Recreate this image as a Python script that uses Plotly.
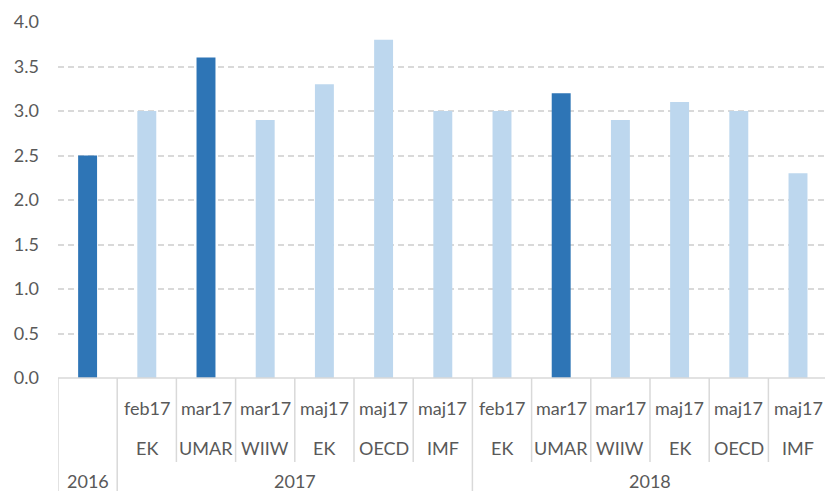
import plotly.graph_objects as go

years = ["2016", "2017", "2018"]
year_sizes = [1, 6, 6]
dates = ["", "feb17", "mar17", "mar17", "maj17", "maj17", "maj17",
         "feb17", "mar17", "mar17", "maj17", "maj17", "maj17"]
sources = ["", "EK", "UMAR", "WIIW", "EK", "OECD", "IMF",
           "EK", "UMAR", "WIIW", "EK", "OECD", "IMF"]
values = [2.5, 3.0, 3.6, 2.9, 3.3, 3.8, 3.0,
          3.0, 3.2, 2.9, 3.1, 3.0, 2.3]
highlight = [True, False, True, False, False, False, False,
             False, True, False, False, False, False]
y_ticks = [0.0, 0.5, 1.0, 1.5, 2.0, 2.5, 3.0, 3.5, 4.0]

DARK = "#2E75B6"
LIGHT = "#BDD7EE"
LINE = "#D9D9D9"
TXT = "#595959"
FONT = "Lato"

n = len(values)
xs = list(range(n))
colors = [DARK if h else LIGHT for h in highlight]

fig = go.Figure(go.Bar(x=xs, y=values, marker_color=colors, width=0.32,
                       marker_line_width=0, hoverinfo="skip"))

# page body has an 8px margin on every side; keep the figure inside the window
OFF = 8
PW, PH = 833, 499
W, H = PW - 2 * OFF, PH - 2 * OFF
base_pix = 378  # page pixel of the zero line
top_pix = 22    # page pixel of the 4.0 gridline
ml, mt = 58 - OFF, top_pix - OFF
mb = H - (base_pix - OFF)
cat_px = 59.2
plot_w = W - ml
x_end = -0.5 + plot_w / cat_px

def py(pix):
    return (base_pix - pix) / (base_pix - top_pix)

shapes = []
shapes.append(dict(type="line", xref="x", yref="paper", x0=-0.5, x1=x_end,
                   y0=0, y1=0, line=dict(color=LINE, width=1.5)))
year_bounds = [-0.5]
acc = -0.5
for s in year_sizes:
    acc += s
    year_bounds.append(acc)
for k in range(n + 1):
    xb = k - 0.5
    if any(abs(xb - b) < 1e-9 for b in year_bounds):
        yb = py(PH + 5)
    else:
        yb = py(462)
    shapes.append(dict(type="line", xref="x", yref="paper", x0=xb, x1=xb,
                       y0=0, y1=yb, line=dict(color=LINE, width=1.5)))

CAT_SIZE = 18
annotations = []
for i in range(n):
    if dates[i]:
        annotations.append(dict(x=i, y=py(408), xref="x", yref="paper",
                                text=dates[i], showarrow=False, yanchor="middle",
                                font=dict(family=FONT, size=CAT_SIZE, color=TXT)))
    if sources[i]:
        annotations.append(dict(x=i, y=py(448), xref="x", yref="paper",
                                text=sources[i], showarrow=False, yanchor="middle",
                                font=dict(family=FONT, size=CAT_SIZE, color=TXT)))
start = 0
for yname, s in zip(years, year_sizes):
    cx = start + (s - 1) / 2
    annotations.append(dict(x=cx, y=py(481), xref="x", yref="paper",
                            text=yname, showarrow=False, yanchor="middle",
                            font=dict(family=FONT, size=CAT_SIZE, color=TXT)))
    start += s

fig.update_layout(
    width=W, height=H,
    margin=dict(l=ml, r=0, t=mt, b=mb),
    plot_bgcolor="white", paper_bgcolor="white",
    showlegend=False,
    shapes=shapes, annotations=annotations,
    xaxis=dict(range=[-0.5, x_end], showticklabels=False, showgrid=False,
               zeroline=False, showline=False, fixedrange=True),
    yaxis=dict(range=[0, 4.0], tickvals=y_ticks,
               ticktext=[f"{v:.1f}" for v in y_ticks],
               showgrid=True, gridcolor=LINE, griddash="6px,4px", gridwidth=1.5,
               zeroline=False, showline=False, ticklabelstandoff=18,
               tickfont=dict(family=FONT, size=18, color=TXT)),
)

fig.write_html("out.html")
